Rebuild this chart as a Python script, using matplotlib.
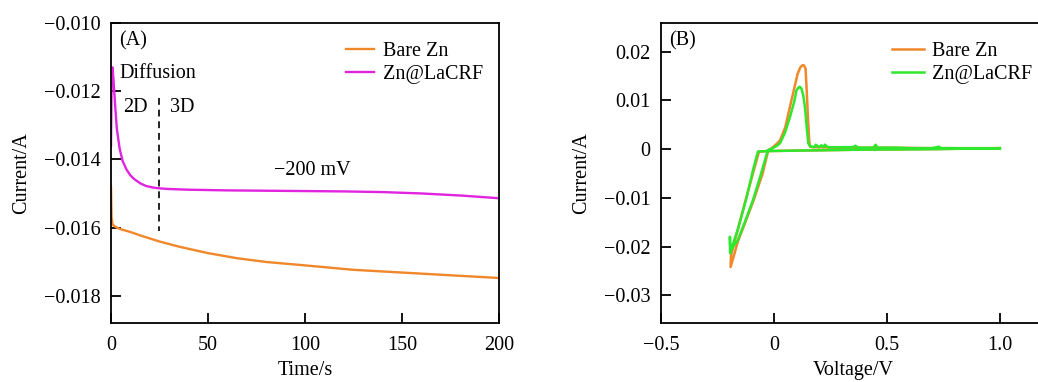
import matplotlib
matplotlib.use("Agg")
import matplotlib.pyplot as plt
from matplotlib.ticker import FixedLocator, FixedFormatter

plt.rcParams['font.family'] = ['Liberation Serif', 'DejaVu Serif']
plt.rcParams['mathtext.fontset'] = 'stix'

# ---------------- Panel A data (chronoamperometry) ----------------
t_bare = [0, 0.3, 0.8, 1.5, 3, 5, 10, 15, 20, 25, 35, 50, 65, 80, 100, 125, 150, 175, 200]
i_bare_t = [-0.0148, -0.0157, -0.0159, -0.01595, -0.0160, -0.01605, -0.01613, -0.01623, -0.01632,
            -0.01641, -0.01656, -0.01675, -0.0169, -0.01701, -0.01711, -0.01724, -0.01732, -0.0174, -0.01748]

t_la = [0, 0.3, 0.7, 1.2, 2, 3, 4.5, 6, 8, 10, 12, 15, 18, 22, 25, 30, 40, 60, 80, 100, 120, 140, 160, 180, 200]
i_la_t = [-0.0136, -0.0118, -0.0113, -0.0116, -0.0123, -0.0131, -0.0137, -0.01405, -0.0143, -0.01447,
          -0.01458, -0.0147, -0.01478, -0.01483, -0.01485, -0.01487, -0.01489, -0.01491, -0.01492,
          -0.01493, -0.01494, -0.01496, -0.01500, -0.01506, -0.01514]

divider_t = 24.5
divider_i = [-0.0122, -0.0161]

# ---------------- Panel B data (cyclic voltammetry) ----------------
v_bare = [1.0, 0.7, 0.4, 0.1, -0.03, -0.066, -0.09, -0.124, -0.16, -0.19, -0.192, -0.175, -0.16,
          -0.125, -0.09, -0.05, -0.025, -0.01, 0.01, 0.027, 0.05, 0.071, 0.09, 0.105, 0.117, 0.125,
          0.133, 0.14, 0.145, 0.15, 0.156, 0.16, 0.17, 0.3, 0.5, 0.7, 1.0]
i_bare_v = [0.0002, 0.0, -0.0001, -0.0003, -0.0004, -0.0005, -0.0045, -0.0102, -0.0165, -0.0218,
            -0.0242, -0.0215, -0.0190, -0.0148, -0.0105, -0.0050, -0.0002, 0.0002, 0.0010, 0.0018,
            0.0045, 0.0087, 0.0125, 0.0155, 0.0168, 0.0172, 0.0172, 0.0165, 0.0121, 0.0070, 0.0018,
            0.0005, 0.0004, 0.0003, 0.0003, 0.0002, 0.0002]

v_la = [1.0, 0.7, 0.4, 0.1, -0.03, -0.071, -0.09, -0.124, -0.16, -0.19, -0.193, -0.195, -0.194,
        -0.18, -0.16, -0.125, -0.093, -0.06, -0.027, -0.01, 0.01, 0.027, 0.05, 0.071, 0.09, 0.1,
        0.11, 0.115, 0.122, 0.13, 0.137, 0.145, 0.152, 0.16,
        0.17, 0.18, 0.185, 0.2, 0.21, 0.22, 0.225, 0.24, 0.3, 0.35, 0.36, 0.37, 0.38, 0.44, 0.45,
        0.46, 0.55, 0.6, 0.7, 0.73, 0.74, 0.8, 0.9, 1.0]
i_la_v = [0.0002, 0.0, -0.0001, -0.0003, -0.0004, -0.0005, -0.0038, -0.0105, -0.0165, -0.0207,
          -0.0214, -0.0180, -0.0212, -0.0200, -0.0187, -0.0145, -0.0105, -0.0055, -0.0002, 0.0001,
          0.0006, 0.0012, 0.0035, 0.0066, 0.0098, 0.0121, 0.0127, 0.0128, 0.0124, 0.0110, 0.0087,
          0.0045, 0.0012, 0.0006,
          0.0005, 0.0004, 0.0009, 0.0004, 0.0008, 0.0004, 0.0009, 0.0004, 0.0004, 0.0004, 0.0007,
          0.0004, 0.0003, 0.0003, 0.0009, 0.0003, 0.0003, 0.0002, 0.0002, 0.0005, 0.0002, 0.0002,
          0.0001, 0.0001]

a_xticks = [0, 50, 100, 150, 200]
a_yticks = [-0.010, -0.012, -0.014, -0.016, -0.018]
a_ylabels = ['\u22120.010', '\u22120.012', '\u22120.014', '\u22120.016', '\u22120.018']
b_xticks = [-0.5, 0, 0.5, 1.0]
b_xlabels = ['\u22120.5', '0', '0.5', '1.0']
b_yticks = [0.02, 0.01, 0, -0.01, -0.02, -0.03]
b_ylabels = ['0.02', '0.01', '0', '\u22120.01', '\u22120.02', '\u22120.03']

c_orange = '#F0872A'
c_magenta = '#E024E0'
c_green = '#2EE82E'

W, H = 1038, 382
fig = plt.figure(figsize=(W / 100, H / 100), dpi=100)

def px_axes(l, r, t, b):
    return fig.add_axes([l / W, 1 - b / H, (r - l) / W, (b - t) / H])

FS = 14.5

def style(ax):
    for s in ax.spines.values():
        s.set_linewidth(1.3)
    ax.tick_params(direction='in', length=7, width=1.3, labelsize=FS, top=False, right=False)
    ax.tick_params(axis='x', pad=9)
    ax.tick_params(axis='y', pad=7.5)

# ---- Panel A ----
axA = px_axes(111, 499, 23, 323)
axA.plot(t_bare, i_bare_t, color=c_orange, lw=1.7, label='Bare Zn')
axA.plot(t_la, i_la_t, color=c_magenta, lw=1.7, label='Zn@LaCRF')
axA.plot([divider_t, divider_t], divider_i, color='#222222', lw=1.4, ls=(0, (3.5, 2.5)))
axA.set_xlim(0, 200)
axA.set_ylim(-0.0188, -0.010)
axA.xaxis.set_major_locator(FixedLocator(a_xticks))
axA.yaxis.set_major_locator(FixedLocator(a_yticks))
axA.yaxis.set_major_formatter(FixedFormatter(a_ylabels))
style(axA)
axA.set_xlabel('Time/s', fontsize=FS, labelpad=5)
axA.set_ylabel('Current/A', fontsize=FS, labelpad=9)
axA.text(0.022, 0.94, '(A)', transform=axA.transAxes, fontsize=FS, va='center', ha='left')
axA.text(0.022, 0.83, 'Diffusion', transform=axA.transAxes, fontsize=FS, va='center', ha='left')
axA.text(0.03, 0.717, '2D', transform=axA.transAxes, fontsize=FS, va='center', ha='left')
axA.text(0.152, 0.717, '3D', transform=axA.transAxes, fontsize=FS, va='center', ha='left')
axA.text(104, -0.01432, '\u2212200 mV', fontsize=FS, va='center', ha='center')
axA.legend(loc='upper right', frameon=False, fontsize=FS, handlelength=1.4, handletextpad=0.45,
           labelspacing=0.2, borderaxespad=0.3, bbox_to_anchor=(0.995, 0.985))

# ---- Panel B ----
axB = px_axes(661, 1045, 23, 323)
axB.plot(v_bare, i_bare_v, color=c_orange, lw=1.8, label='Bare Zn')
axB.plot(v_la, i_la_v, color=c_green, lw=1.8, label='Zn@LaCRF')
axB.set_xlim(-0.5, 1.2)
axB.set_ylim(-0.0357, 0.0259)
axB.xaxis.set_major_locator(FixedLocator(b_xticks))
axB.xaxis.set_major_formatter(FixedFormatter(b_xlabels))
axB.yaxis.set_major_locator(FixedLocator(b_yticks))
axB.yaxis.set_major_formatter(FixedFormatter(b_ylabels))
style(axB)
axB.spines['right'].set_visible(False)
axB.set_xlabel('Voltage/V', fontsize=FS, labelpad=5)
axB.set_ylabel('Current/A', fontsize=FS, labelpad=9)
axB.text(0.02, 0.94, '(B)', transform=axB.transAxes, fontsize=FS, va='center', ha='left')
axB.legend(loc='upper left', frameon=False, fontsize=FS, handlelength=1.6, handletextpad=0.4,
           labelspacing=0.2, bbox_to_anchor=(0.565, 0.985), borderaxespad=0.3)

fig.savefig('out.png', dpi=100)
